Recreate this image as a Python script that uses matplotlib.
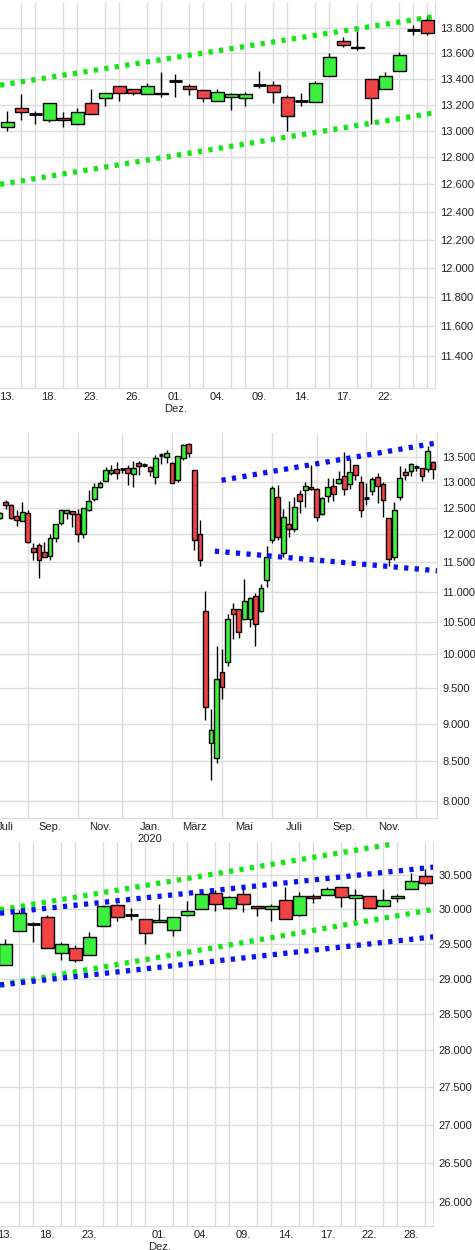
import matplotlib.pyplot as plt
import numpy as np
from matplotlib.ticker import FixedLocator, NullLocator, FuncFormatter

plt.rcParams['font.family'] = ['Liberation Sans', 'DejaVu Sans']

# %% Data (index points in thousands)
# Panel 1: daily, Nov/Dec
p1_labels = ['13.', '18.', '23.', '26.', '01.\nDez.', '04.', '09.', '14.', '17.', '22.']
p1_label_pos = [0, 3, 6, 9, 12, 15, 18, 21, 24, 27]
p1_open = [13.03, 13.17, 13.13, 13.08, 13.10, 13.05, 13.21, 13.25, 13.34, 13.32, 13.28, 13.28, 13.38, 13.34, 13.31, 13.23,
           13.26, 13.25, 13.35, 13.35, 13.26, 13.23, 13.22, 13.42, 13.70, 13.65, 13.40, 13.32, 13.46, 13.79, 13.87]
p1_close = [13.07, 13.14, 13.13, 13.21, 13.08, 13.14, 13.13, 13.29, 13.29, 13.29, 13.34, 13.29, 13.38, 13.32, 13.25, 13.30,
            13.28, 13.28, 13.35, 13.30, 13.11, 13.23, 13.37, 13.57, 13.67, 13.64, 13.25, 13.42, 13.59, 13.79, 13.76]
p1_high = [13.15, 13.28, 13.15, 13.21, 13.14, 13.17, 13.32, 13.29, 13.34, 13.32, 13.37, 13.45, 13.44, 13.36, 13.31, 13.32,
           13.29, 13.30, 13.46, 13.38, 13.27, 13.29, 13.38, 13.60, 13.73, 13.78, 13.40, 13.45, 13.61, 13.83, 13.90]
p1_low = [13.00, 13.08, 13.05, 13.07, 13.03, 13.05, 13.13, 13.19, 13.23, 13.27, 13.28, 13.26, 13.26, 13.27, 13.22, 13.23,
          13.16, 13.19, 13.33, 13.21, 13.00, 13.19, 13.22, 13.42, 13.65, 13.63, 13.05, 13.32, 13.46, 13.75, 13.75]
p1_green_up = ([-0.52, 30.76], [13.35, 13.90])
p1_green_lo = ([-0.52, 30.40], [12.60, 13.135])
p1_yticks = [11.4, 11.6, 11.8, 12.0, 12.2, 12.4, 12.6, 12.8, 13.0, 13.2, 13.4, 13.6, 13.8]

# Panel 2: weekly, mid 2019 - Dec 2020
p2_labels = ['Juli', 'Sep.', 'Nov.', 'Jan.\n2020', 'März', 'Mai', 'Juli', 'Sep.', 'Nov.']
p2_label_pos = [1, 9, 18, 27, 35, 44, 53, 62, 70]
p2_month_pos = [1, 5, 9, 14, 18, 22, 27, 31, 35, 40, 44, 49, 53, 57, 62, 66, 70, 75]
p2_open = [12.30, 12.61, 12.54, 12.34, 12.24, 12.39, 11.75, 11.81, 11.68, 11.62, 11.93, 12.21, 12.39, 12.43, 12.37, 12.00,
           12.46, 12.66, 12.90, 13.02, 13.17, 13.26, 13.25, 13.28, 13.16, 13.37, 13.33, 13.30, 13.10, 13.53, 13.50, 13.38,
           13.03, 13.48, 13.76, 13.23, 12.01, 10.69, 8.74, 8.54, 9.73, 9.89, 10.72, 10.71, 10.55, 10.55, 10.93, 10.68,
           11.19, 11.90, 12.70, 11.67, 12.19, 12.10, 12.77, 12.83, 12.90, 12.86, 12.38, 12.73, 12.91, 12.97, 13.11, 12.95,
           13.34, 13.00, 12.68, 12.81, 13.10, 12.96, 12.30, 11.60, 12.71, 13.19, 13.21, 13.29, 13.27, 13.25, 13.40]
p2_high = [12.42, 12.65, 12.57, 12.46, 12.61, 12.46, 11.84, 11.84, 11.87, 12.00, 12.19, 12.48, 12.46, 12.44, 12.48, 12.50,
           12.83, 12.98, 13.01, 13.30, 13.33, 13.39, 13.28, 13.34, 13.42, 13.41, 13.38, 13.31, 13.55, 13.58, 13.65, 13.39,
           13.52, 13.76, 13.78, 13.24, 12.27, 11.02, 9.20, 10.13, 10.08, 10.64, 10.82, 10.72, 11.22, 10.92, 10.98, 11.13,
           11.80, 12.92, 12.93, 12.48, 12.63, 12.71, 12.83, 13.00, 13.33, 12.88, 12.70, 13.08, 13.08, 13.21, 13.60, 13.45,
           13.34, 13.11, 12.98, 13.10, 13.18, 12.99, 12.30, 12.61, 13.31, 13.28, 13.38, 13.33, 13.28, 13.73, 13.41]
p2_low = [12.28, 12.48, 12.28, 12.16, 12.24, 11.84, 11.54, 11.24, 11.60, 11.55, 11.86, 12.17, 12.29, 12.13, 11.87, 11.93,
          12.44, 12.63, 12.88, 13.01, 13.14, 13.06, 13.18, 12.93, 12.89, 13.13, 13.29, 13.11, 12.96, 13.36, 13.37, 12.98,
          12.99, 13.43, 13.49, 11.72, 11.43, 9.05, 8.26, 8.48, 9.34, 9.83, 10.24, 10.25, 10.54, 10.42, 10.13, 10.66,
          11.08, 11.84, 11.90, 11.60, 11.95, 12.04, 12.40, 12.51, 12.83, 12.24, 12.36, 12.61, 12.63, 12.95, 12.75, 12.85,
          13.03, 12.33, 12.54, 12.75, 12.59, 12.33, 11.43, 11.54, 12.65, 13.03, 13.11, 13.21, 13.01, 13.19, 13.05]
p2_close = [12.39, 12.55, 12.31, 12.26, 12.41, 11.87, 11.69, 11.55, 11.60, 11.93, 12.19, 12.46, 12.46, 12.37, 12.00, 12.50,
            12.63, 12.90, 12.97, 13.24, 13.24, 13.17, 13.25, 13.17, 13.27, 13.32, 13.33, 13.21, 13.48, 13.53, 13.58, 12.98,
            13.52, 13.74, 13.58, 11.90, 11.54, 9.23, 8.92, 9.63, 9.52, 10.56, 10.63, 10.35, 10.85, 10.90, 10.47, 11.07,
            11.59, 12.87, 11.95, 12.33, 12.10, 12.51, 12.63, 12.91, 12.85, 12.32, 12.68, 12.90, 12.76, 13.05, 12.85, 13.19,
            13.13, 12.46, 12.68, 13.06, 12.91, 12.64, 11.56, 12.46, 13.08, 13.13, 13.35, 13.29, 13.11, 13.63, 13.26]
p2_blue_up = ([39.9, 78.6], [13.03, 13.79])
p2_blue_lo = ([38.7, 79.5], [11.70, 11.35])
p2_yticks = [8.0, 8.5, 9.0, 9.5, 10.0, 10.5, 11.0, 11.5, 12.0, 12.5, 13.0, 13.5]

# Panel 3: daily, Nov/Dec
p3_labels = ['13.', '18.', '23.', '01.\nDez.', '04.', '09.', '14.', '17.', '22.', '28.']
p3_label_pos = [0, 3, 6, 11, 14, 17, 20, 23, 26, 29]
p3_open = [29.19, 29.68, 29.79, 29.88, 29.37, 29.44, 29.33, 29.75, 30.06, 29.91, 29.86, 29.81, 29.70, 29.92, 30.00, 30.24,
           30.01, 30.23, 30.04, 30.00, 30.13, 29.92, 30.20, 30.21, 30.32, 30.17, 30.20, 30.05, 30.16, 30.29, 30.49]
p3_close = [29.49, 29.95, 29.79, 29.44, 29.49, 29.27, 29.59, 30.05, 29.88, 29.91, 29.65, 29.84, 29.89, 29.98, 30.22, 30.07,
            30.18, 30.07, 30.01, 30.05, 29.86, 30.20, 30.16, 30.30, 30.18, 30.21, 30.02, 30.14, 30.20, 30.41, 30.38]
p3_high = [29.57, 29.99, 29.81, 29.91, 29.52, 29.48, 29.67, 30.05, 30.07, 30.01, 29.86, 30.08, 29.89, 30.12, 30.25, 30.28,
           30.20, 30.32, 30.05, 30.07, 30.32, 30.25, 30.22, 30.32, 30.32, 30.30, 30.20, 30.29, 30.22, 30.53, 30.59]
p3_low = [29.19, 29.68, 29.52, 29.44, 29.27, 29.23, 29.33, 29.75, 29.82, 29.84, 29.49, 29.81, 29.61, 29.90, 30.00, 29.98,
          30.00, 29.96, 29.90, 29.83, 29.86, 29.90, 30.09, 30.21, 30.03, 29.77, 30.02, 30.05, 30.11, 30.29, 30.36]
p3_green_up = ([-0.38, 27.7], [29.99, 30.97])
p3_green_lo = ([-0.38, 30.7], [28.91, 30.00])
p3_blue_up = ([-0.38, 30.95], [29.94, 30.63])
p3_blue_lo = ([-0.38, 30.7], [28.91, 29.60])
p3_yticks = [26.0, 26.5, 27.0, 27.5, 28.0, 28.5, 29.0, 29.5, 30.0, 30.5]

GREEN = '#3ef03e'
RED = '#f04343'
LGREEN = '#14e614'
BLUE = '#0a14f0'
GRID = '#dcdcdc'


def thousands(v, pos=None):
    return f'{v:,.0f}'.replace(',', '.')


def draw_candles(ax, o, h, l, c, width):
    o, h, l, c = [np.array(a) * 1000 for a in (o, h, l, c)]
    x = np.arange(len(o))
    ax.vlines(x, l, h, color='black', linewidth=1, zorder=2)
    doji = np.isclose(o, c)
    up = (c > o) & ~doji
    dn = (c < o) & ~doji
    ax.bar(x[up], (c - o)[up], bottom=o[up], width=width, color=GREEN, edgecolor='black', linewidth=1, zorder=3)
    ax.bar(x[dn], (o - c)[dn], bottom=c[dn], width=width, color=RED, edgecolor='black', linewidth=1, zorder=3)
    ax.hlines(o[doji], x[doji] - width / 2, x[doji] + width / 2, color='black', linewidth=2, zorder=3)


def trend(ax, line, color):
    ax.plot(line[0], np.array(line[1]) * 1000, color=color, linewidth=3.8,
            linestyle=(0, (0.8, 1.2)), solid_capstyle='butt', zorder=4)


def style(ax, xlim, ylim, yticks, xgrid, labels, label_pos):
    ax.set_yscale('log')
    ax.set_xlim(*xlim)
    ax.set_ylim(ylim[0] * 1000, ylim[1] * 1000)
    ax.yaxis.set_major_locator(FixedLocator(np.array(yticks) * 1000))
    ax.yaxis.set_minor_locator(NullLocator())
    ax.yaxis.set_major_formatter(FuncFormatter(thousands))
    ax.yaxis.tick_right()
    ax.set_xticks(label_pos)
    ax.set_xticklabels(labels)
    ax.set_xticks(xgrid, minor=True)
    ax.tick_params(axis='both', which='both', length=0, labelsize=8, colors='#222222')
    ax.tick_params(axis='y', pad=4)
    ax.tick_params(axis='x', pad=3)
    ax.grid(True, which='major', axis='y', color=GRID, linewidth=1, zorder=0)
    ax.grid(True, which='minor', axis='x', color=GRID, linewidth=1, zorder=0)
    ax.grid(False, which='major', axis='x')
    ax.set_axisbelow(True)
    for s in ax.spines.values():
        s.set_color(GRID)
    ax.spines['left'].set_visible(False)
    ax.spines['top'].set_visible(False)


fig = plt.figure(figsize=(4.75, 12.5), dpi=100)

# %% Panel 1
ax1 = fig.add_axes([0, 0.6896, 0.9158, 0.308])
draw_candles(ax1, p1_open, p1_high, p1_low, p1_close, 0.9)
trend(ax1, p1_green_up, LGREEN)
trend(ax1, p1_green_lo, LGREEN)
style(ax1, (-0.52, 30.55), (11.19, 14.005), p1_yticks, range(31), p1_labels, p1_label_pos)

# %% Panel 2
ax2 = fig.add_axes([0, 0.3456, 0.92, 0.308])
draw_candles(ax2, p2_open, p2_high, p2_low, p2_close, 0.85)
trend(ax2, p2_blue_up, BLUE)
trend(ax2, p2_blue_lo, BLUE)
style(ax2, (0, 78.7), (7.80, 14.0), p2_yticks, p2_month_pos, p2_labels, p2_label_pos)

# %% Panel 3
ax3 = fig.add_axes([0, 0.0192, 0.9116, 0.3072])
draw_candles(ax3, p3_open, p3_high, p3_low, p3_close, 0.9)
trend(ax3, p3_green_up, LGREEN)
trend(ax3, p3_green_lo, LGREEN)
trend(ax3, p3_blue_up, BLUE)
trend(ax3, p3_blue_lo, BLUE)
style(ax3, (-0.38, 30.55), (25.70, 31.0), p3_yticks, range(31), p3_labels, p3_label_pos)

fig.savefig('out.png', dpi=100)
